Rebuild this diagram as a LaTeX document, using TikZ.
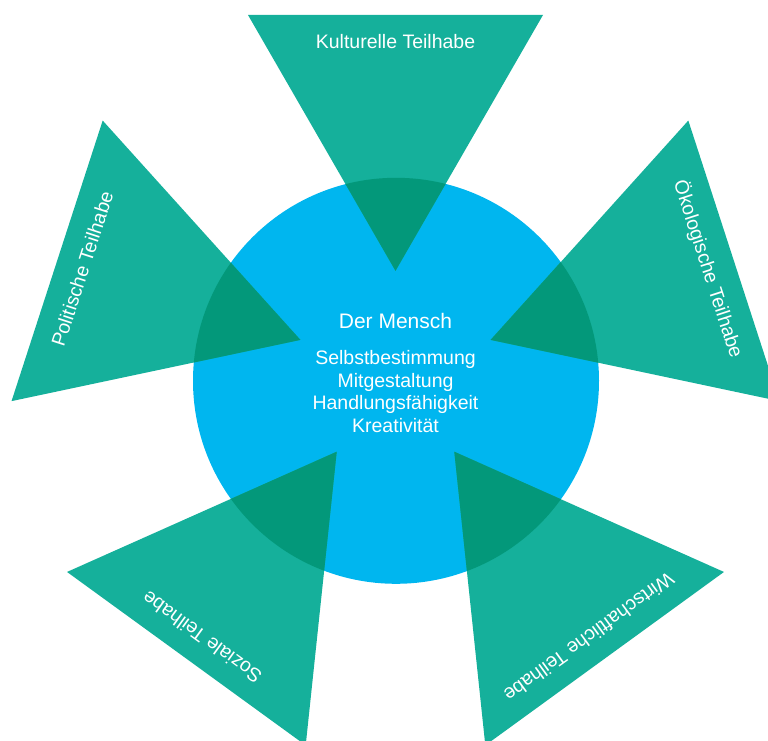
\documentclass[tikz,border=0pt]{standalone}
\usepackage{fontspec}
\setmainfont{Liberation Sans}
\usetikzlibrary{calc}
\definecolor{tealmain}{HTML}{15B09B}
\definecolor{tealdeep}{HTML}{03987A}
\definecolor{hubblue}{HTML}{00B6EF}
\tikzset{
  lab/.style={text=white, inner sep=0pt, font=\fontsize{19.5}{22}\selectfont},
  hubtext/.style={text=white, inner sep=0pt, anchor=base, font=\fontsize{19.5}{23}\selectfont},
  hubhead/.style={text=white, inner sep=0pt, anchor=base, font=\fontsize{21}{24}\selectfont},
}
\begin{document}
\begin{tikzpicture}[x=1pt,y=1pt]
\useasboundingbox (0,0) rectangle (768,740);
\clip (0,0) rectangle (768,740);
\coordinate (P) at (395.5,369.2);
\coordinate (C) at (396,359.2);
% central circle
\fill[hubblue] (C) circle (203);
% triangles
\foreach \k in {0,...,4} {
  \begin{scope}[shift={(P)}, rotate=72*\k]
    \fill[tealmain] (0,100) -- (-147.5,355.8) -- (147.5,355.8) -- cycle;
  \end{scope}
}
% overlap with circle
\begin{scope}
  \clip (C) circle (203);
  \foreach \k in {0,...,4} {
    \begin{scope}[shift={(P)}, rotate=72*\k]
      \fill[tealdeep] (0,100) -- (-147.5,355.8) -- (147.5,355.8) -- cycle;
    \end{scope}
  }
\end{scope}
% labels
\foreach \k/\t in {0/Kulturelle Teilhabe, 1/Politische Teilhabe, 2/Soziale Teilhabe, 3/Wirtschaftliche Teilhabe, 4/Ökologische Teilhabe} {
  \node[lab, rotate=72*\k, anchor=base] (lab\k) at ($(P)+(90+72*\k:322.5)$) {\t};
}
% hub text
\node[hubhead] (head) at (395.5,411.7) {Der Mensch};
\node[hubtext] (t1) at (395.5,375.7) {Selbstbestimmung};
\node[hubtext] (t2) at (395.5,352.9) {Mitgestaltung};
\node[hubtext] (t3) at (395.5,330.1) {Handlungsfähigkeit};
\node[hubtext] (t4) at (395.5,307.3) {Kreativität};
\end{tikzpicture}
\end{document}
